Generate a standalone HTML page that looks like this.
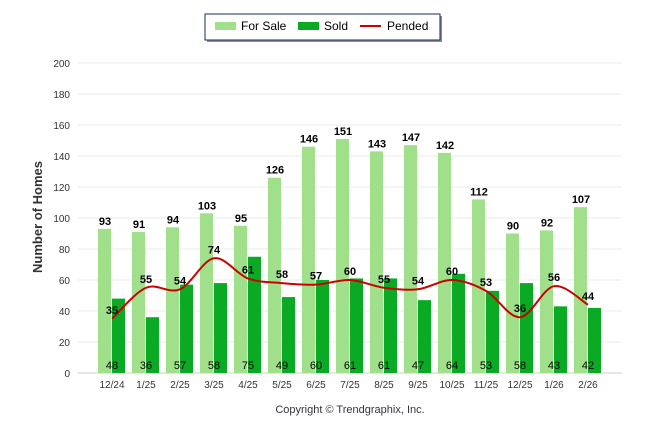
<!DOCTYPE html>
<html><head><meta charset="utf-8"><style>
body{margin:0;background:#fff;font-family:"Liberation Sans",sans-serif}
</style></head><body>
<svg width="646" height="434">
<g>
<rect x="207" y="16" width="235" height="26" fill="#8890a0"/>
<rect x="205" y="14" width="235" height="26" fill="#fff" stroke="#1b2a5a" stroke-width="1"/>
<rect x="215" y="22" width="21" height="8" fill="#a1e08a"/>
<text x="241" y="30" font-size="12">For Sale</text>
<rect x="298" y="22" width="21" height="8" fill="#0aaa24"/>
<text x="324" y="30" font-size="12">Sold</text>
<line x1="360" y1="26" x2="381" y2="26" stroke="#cc0000" stroke-width="2"/>
<text x="387" y="30" font-size="12">Pended</text>
</g>
<text transform="translate(42,217) rotate(-90)" text-anchor="middle" font-size="13" font-weight="bold" fill="#333">Number of Homes</text>
<text x="350" y="413" text-anchor="middle" font-size="11" fill="#334">Copyright © Trendgraphix, Inc.</text>
<g id="plot"></g>
</svg>
<script>
const categories=["12/24","1/25","2/25","3/25","4/25","5/25","6/25","7/25","8/25","9/25","10/25","11/25","12/25","1/26","2/26"];
const forSale=[93,91,94,103,95,126,146,151,143,147,142,112,90,92,107];
const sold=[48,36,57,58,75,49,60,61,61,47,64,53,58,43,42];
const pended=[35,55,54,74,61,58,57,60,55,54,60,53,36,56,44];
const yTicks=[0,20,40,60,80,100,120,140,160,180,200];
const NS="http://www.w3.org/2000/svg";
const g=document.getElementById('plot');
const y=v=>373-v*1.55;
const cx=i=>112+i*34;
function mk(t,a,txt){const e=document.createElementNS(NS,t);for(const k in a)e.setAttribute(k,a[k]);if(txt!==undefined)e.textContent=txt;g.appendChild(e);return e;}
yTicks.forEach(t=>{
 const l=mk('line',{x1:78,x2:622,y1:y(t),y2:y(t),stroke:t===0?'#ccc':'#ebebeb'});
 
 
 const tx=mk('text',{x:70,y:y(t)+4,'text-anchor':'end','font-size':10,fill:'#333'},t);
 
 
});
categories.forEach((c,i)=>{
 const a=mk('rect',{x:cx(i)-14,y:y(forSale[i]),width:13,height:forSale[i]*1.55,fill:'#a1e08a'});
 
 
 const b=mk('rect',{x:cx(i),y:y(sold[i]),width:13,height:sold[i]*1.55,fill:'#0aaa24'});
 
 
 const t1=mk('text',{x:cx(i)-7,y:y(forSale[i])-4,'text-anchor':'middle','font-size':11,'font-weight':'bold'},forSale[i]);
 
 
 const t2=mk('text',{x:cx(i),y:369,'text-anchor':'middle','font-size':11},sold[i]);
 
 
 const xl=mk('text',{x:cx(i),y:388,'text-anchor':'middle','font-size':10,fill:'#333'},c);
 
 
});
const pts=pended.map((v,i)=>[cx(i),y(v)]);
let d='M'+pts[0][0]+','+pts[0][1];
for(let i=0;i<pts.length-1;i++){
 const p0=pts[Math.max(0,i-1)],p1=pts[i],p2=pts[i+1],p3=pts[Math.min(pts.length-1,i+2)];
 d+=` C${p1[0]+(p2[0]-p0[0])/6},${p1[1]+(p2[1]-p0[1])/6} ${p2[0]-(p3[0]-p1[0])/6},${p2[1]-(p3[1]-p1[1])/6} ${p2[0]},${p2[1]}`;
}
const pl=mk('path',{d:d,fill:'none',stroke:'#cc0000','stroke-width':2});


pended.forEach((v,i)=>{
 const t=mk('text',{x:cx(i),y:y(v)-5,'text-anchor':'middle','font-size':11,'font-weight':'bold'},v);
 
 
});
</script>
</body></html>
